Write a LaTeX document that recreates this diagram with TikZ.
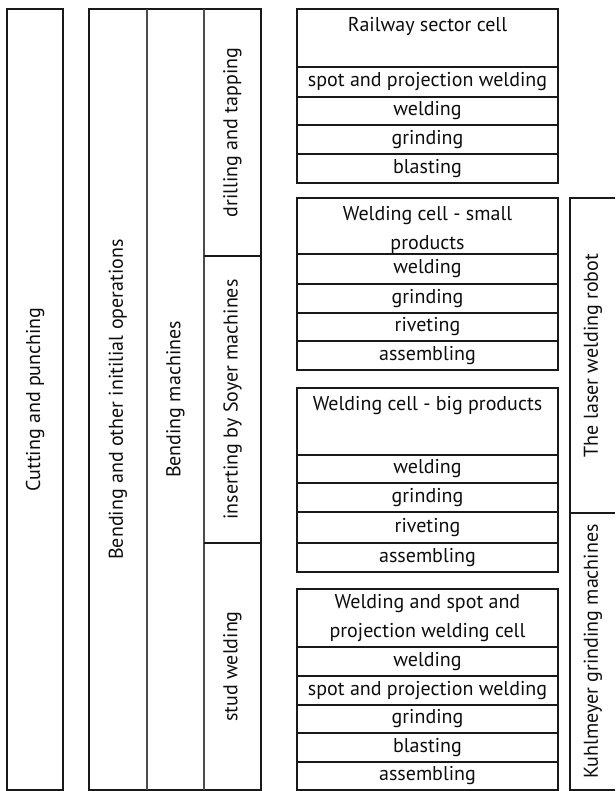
\documentclass[tikz,border=0pt]{standalone}
\usepackage{fontspec}
\setmainfont{PT Sans}

\tikzset{every picture/.style={line width=0.75pt}}
\tikzset{
	frame/.style={line width=1.5pt, color=black!90},
	rowline/.style={line width=1.1pt, color=black!90},
	thinline/.style={line width=0.8pt, color=black!70},
	lbl/.style={inner sep=0.75pt, text=black!95, font=\fontsize{15}{21.75}\selectfont, align=center},
	vlbl/.style={lbl, rotate=90},
}

\begin{document}
\begin{tikzpicture}[x=0.75pt,y=0.75pt,yscale=-1,xscale=1]
		\useasboundingbox (0,0) rectangle (615,791);

		%Shape: Rectangle [cutting]
		\draw[frame] (7,9) rectangle (63,790) ;
		%Shape: Rectangle [bending group]
		\draw[frame] (89,9) rectangle (261,790) ;
		%Straight Lines [bending columns]
		\draw[thinline] (147,9) -- (147,790) ;
		\draw[thinline] (204,9) -- (204,790) ;
		%Straight Lines [bending column splits]
		\draw[rowline] (204,256) -- (261,256) ;
		\draw[rowline] (204,543) -- (261,543) ;

		%Shape: Rectangle [railway cell]
		\draw[frame] (297,9) rectangle (558,183) ;
		\foreach \y in {67,97,125,154}
			\draw[rowline] (297,\y) -- (558,\y) ;
		%Shape: Rectangle [small products cell]
		\draw[frame] (297,198) rectangle (558,370) ;
		\foreach \y in {254,284,313,341}
			\draw[rowline] (297,\y) -- (558,\y) ;
		%Shape: Rectangle [big products cell]
		\draw[frame] (297,388) rectangle (558,572) ;
		\foreach \y in {455,483,512,543}
			\draw[rowline] (297,\y) -- (558,\y) ;
		%Shape: Rectangle [spot welding cell]
		\draw[frame] (297,589) rectangle (558,790) ;
		\foreach \y in {647,676,705,733,762}
			\draw[rowline] (297,\y) -- (558,\y) ;

		%Straight Lines [laser and grinding machines]
		\draw[frame] (615,198) -- (570,198) -- (570,790) -- (615,790) ;
		\draw[rowline] (570,513) -- (615,513) ;

		% Text Node
		\node[vlbl] (cutting) at (35,399.5) {Cutting and punching};
		% Text Node
		\node[vlbl] (bendops) at (118,399.5) {Bending and other initilial operations};
		% Text Node
		\node[vlbl] (bendmach) at (175.5,399.5) {Bending machines};
		% Text Node
		\node[vlbl] (drilling) at (232.5,132.5) {drilling and tapping};
		% Text Node
		\node[vlbl] (inserting) at (232.5,399.5) {inserting by Soyer machines};
		% Text Node
		\node[vlbl] (stud) at (232.5,666.5) {stud welding};

		% Text Node
		\node[lbl] (railway) at (427.5,26) {Railway sector cell};
		\node[lbl] (railspot) at (427.5,82) {spot and projection welding};
		\node[lbl] (railweld) at (427.5,111) {welding};
		\node[lbl] (railgrind) at (427.5,139.5) {grinding};
		\node[lbl] (railblast) at (427.5,168.5) {blasting};
		% Text Node
		\node[lbl] (small) at (427.5,229.5) {Welding cell - small\\products};
		\node[lbl] (smallweld) at (427.5,269) {welding};
		\node[lbl] (smallgrind) at (427.5,298.5) {grinding};
		\node[lbl] (smallrivet) at (427.5,327) {riveting};
		\node[lbl] (smallassem) at (427.5,355.5) {assembling};
		% Text Node
		\node[lbl] (big) at (427.5,406) {Welding cell - big products};
		\node[lbl] (bigweld) at (427.5,469) {welding};
		\node[lbl] (biggrind) at (427.5,497.5) {grinding};
		\node[lbl] (bigrivet) at (427.5,527.5) {riveting};
		\node[lbl] (bigassem) at (427.5,557.5) {assembling};
		% Text Node
		\node[lbl] (spotcell) at (427.5,618.5) {Welding and spot and\\projection welding cell};
		\node[lbl] (spotweld) at (427.5,661.5) {welding};
		\node[lbl] (spotspot) at (427.5,690.5) {spot and projection welding};
		\node[lbl] (spotgrind) at (427.5,719) {grinding};
		\node[lbl] (spotblast) at (427.5,747.5) {blasting};
		\node[lbl] (spotassem) at (427.5,776) {assembling};

		% Text Node
		\node[vlbl] (laser) at (593,355.5) {The laser welding robot};
		% Text Node
		\node[vlbl] (kuhlmeyer) at (593,651.5) {Kuhlmeyer grinding machines};

	\end{tikzpicture}
\end{document}
